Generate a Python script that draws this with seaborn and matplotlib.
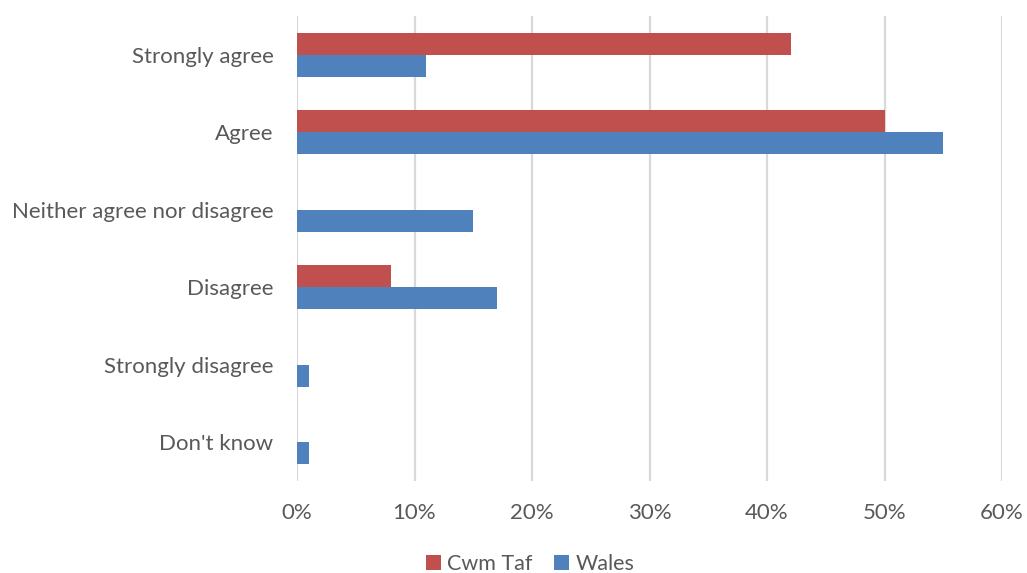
import matplotlib
matplotlib.use("Agg")
import matplotlib.pyplot as plt
import seaborn as sns
import pandas as pd
from matplotlib.ticker import FuncFormatter
from matplotlib.patches import Patch

categories = ["Strongly agree", "Agree", "Neither agree nor disagree",
              "Disagree", "Strongly disagree", "Don't know"]
cwm_taf = [42, 50, 0, 8, 0, 0]
wales = [11, 55, 15, 17, 1, 1]
series_names = ["Cwm Taf", "Wales"]
x_ticks = [0, 10, 20, 30, 40, 50, 60]

df = pd.DataFrame({
    "Response": categories * 2,
    "Percent": cwm_taf + wales,
    "Area": [series_names[0]] * len(categories) + [series_names[1]] * len(categories),
})

sns.set_theme(style="white")
plt.rcParams["font.family"] = ["Lato", "DejaVu Sans"]

palette = {"Cwm Taf": "#C0504D", "Wales": "#4F81BD"}
text_color = "#595959"
font_size = 16

fig = plt.figure(figsize=(10.27, 5.73), dpi=100)
ax = fig.add_axes([297 / 1027, 1 - 481 / 573, (1002 - 297) / 1027, 465 / 573])

sns.barplot(data=df, y="Response", x="Percent", hue="Area", order=categories,
            hue_order=series_names, palette=palette, orient="h", width=0.57,
            saturation=1, linewidth=0, ax=ax, legend=False)

ax.set_xlim(0, 60)
ax.set_xticks(x_ticks)
ax.xaxis.set_major_formatter(FuncFormatter(lambda v, _: f"{v:.0f}%"))
ax.grid(axis="x", color="#D9D9D9", linewidth=1.6)
ax.set_axisbelow(True)
for s in ax.spines.values():
    s.set_visible(False)
ax.set_xlabel("")
ax.set_ylabel("")
ax.tick_params(axis="both", length=0, labelsize=font_size, colors=text_color)
ax.tick_params(axis="y", pad=17)
ax.tick_params(axis="x", pad=16)

handles = [Patch(facecolor=palette[n], edgecolor="none") for n in series_names]
fig.legend(handles, series_names, loc="center", bbox_to_anchor=(530 / 1027, 1 - 564 / 573),
           ncol=2, frameon=False, fontsize=15.5, labelcolor=text_color,
           handlelength=0.7, handleheight=0.7, handletextpad=0.3, columnspacing=1.0)

fig.savefig("out.png", dpi=100)
